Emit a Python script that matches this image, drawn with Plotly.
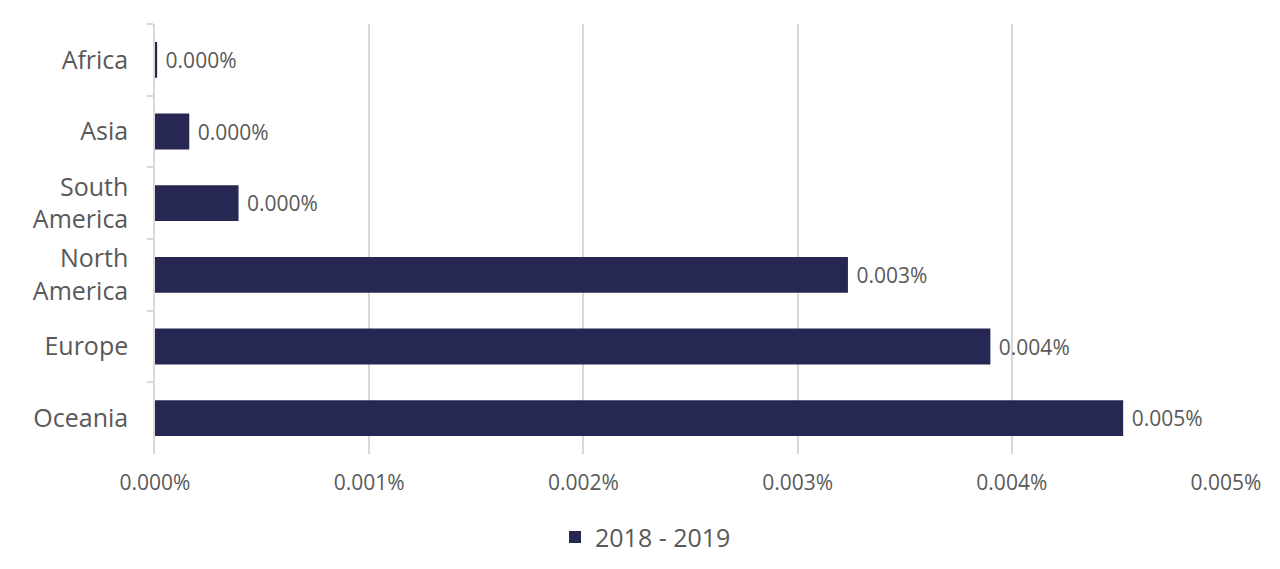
import plotly.graph_objects as go

regions = ["Africa", "Asia", "South<br>America", "North<br>America", "Europe", "Oceania"]
values = [0.00001, 0.00016, 0.00039, 0.003235, 0.0039, 0.00452]
series_name = "2018 - 2019"
x_ticks = [0, 0.001, 0.002, 0.003, 0.004, 0.005]
x_tick_labels = ["0.000%", "0.001%", "0.002%", "0.003%", "0.004%", "0.005%"]

BAR = "#262853"
TXT = "#595959"
GRID = "#d9d9d9"
FONT = "Open Sans, sans-serif"

fig = go.Figure()
fig.add_trace(go.Bar(
    y=regions, x=values, orientation="h", name=series_name,
    marker=dict(color=BAR, line=dict(width=0)),
    texttemplate=" %{x:.3f}%", textposition="outside",
    textfont=dict(size=21, color=TXT, family=FONT),
    cliponaxis=False,
))

fig.update_layout(
    width=1280, height=569,
    margin=dict(l=147, r=62, t=16, b=123),
    paper_bgcolor="white", plot_bgcolor="white",
    bargap=0.5,
    font=dict(family=FONT, color=TXT),
    showlegend=True,
    legend=dict(orientation="h", x=0.458, xanchor="center",
                y=-0.14, yanchor="top", itemwidth=30,
                font=dict(size=25, color=TXT, family=FONT)),
    xaxis=dict(range=[0, 0.005], tickvals=x_ticks, ticktext=x_tick_labels,
               showgrid=True, gridcolor=GRID, gridwidth=1.5, zeroline=False,
               showline=False, ticks="", automargin=False, ticklabelstandoff=14,
               tickfont=dict(size=21, color=TXT, family=FONT)),
    yaxis=dict(autorange="reversed", type="category", showline=True, linecolor=GRID,
               linewidth=1.5, ticks="outside", tickson="boundaries", ticklen=6,
               tickcolor=GRID, tickwidth=1.5, showgrid=False, automargin=False,
               ticklabelstandoff=20,
               tickfont=dict(size=25, color=TXT, family=FONT)),
)

fig.write_html("out.html")
